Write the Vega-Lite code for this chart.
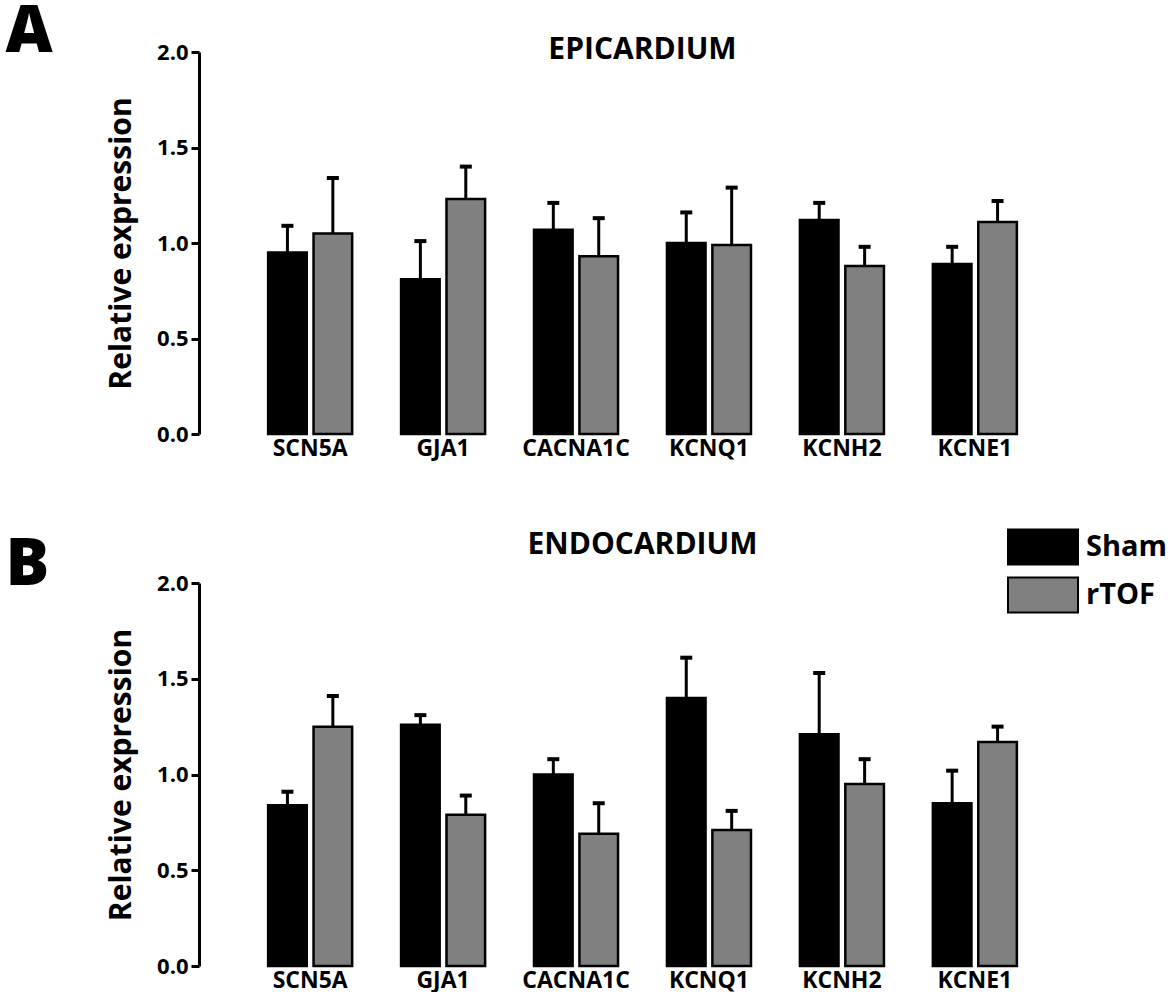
{
  "$schema": "https://vega.github.io/schema/vega-lite/v6.json",
  "padding": {"left": 5, "top": 0, "right": 5, "bottom": 0},
  "background": "white",
  "config": {
    "view": {"stroke": null},
    "font": "Open Sans",
    "axis": {"labelFont": "Open Sans", "titleFont": "Open Sans", "labelColor": "black", "titleColor": "black"},
    "title": {"font": "Open Sans", "color": "black"}
  },
  "datasets": {
    "epi": [
      {"gene": "SCN5A", "group": "Sham", "mean": 0.95, "upper": 1.09},
      {"gene": "SCN5A", "group": "rTOF", "mean": 1.05, "upper": 1.34},
      {"gene": "GJA1", "group": "Sham", "mean": 0.81, "upper": 1.01},
      {"gene": "GJA1", "group": "rTOF", "mean": 1.23, "upper": 1.40},
      {"gene": "CACNA1C", "group": "Sham", "mean": 1.07, "upper": 1.21},
      {"gene": "CACNA1C", "group": "rTOF", "mean": 0.93, "upper": 1.13},
      {"gene": "KCNQ1", "group": "Sham", "mean": 1.00, "upper": 1.16},
      {"gene": "KCNQ1", "group": "rTOF", "mean": 0.99, "upper": 1.29},
      {"gene": "KCNH2", "group": "Sham", "mean": 1.12, "upper": 1.21},
      {"gene": "KCNH2", "group": "rTOF", "mean": 0.88, "upper": 0.98},
      {"gene": "KCNE1", "group": "Sham", "mean": 0.89, "upper": 0.98},
      {"gene": "KCNE1", "group": "rTOF", "mean": 1.11, "upper": 1.22}
    ],
    "endo": [
      {"gene": "SCN5A", "group": "Sham", "mean": 0.84, "upper": 0.91},
      {"gene": "SCN5A", "group": "rTOF", "mean": 1.25, "upper": 1.41},
      {"gene": "GJA1", "group": "Sham", "mean": 1.26, "upper": 1.31},
      {"gene": "GJA1", "group": "rTOF", "mean": 0.79, "upper": 0.89},
      {"gene": "CACNA1C", "group": "Sham", "mean": 1.00, "upper": 1.08},
      {"gene": "CACNA1C", "group": "rTOF", "mean": 0.69, "upper": 0.85},
      {"gene": "KCNQ1", "group": "Sham", "mean": 1.40, "upper": 1.61},
      {"gene": "KCNQ1", "group": "rTOF", "mean": 0.71, "upper": 0.81},
      {"gene": "KCNH2", "group": "Sham", "mean": 1.21, "upper": 1.53},
      {"gene": "KCNH2", "group": "rTOF", "mean": 0.95, "upper": 1.08},
      {"gene": "KCNE1", "group": "Sham", "mean": 0.85, "upper": 1.02},
      {"gene": "KCNE1", "group": "rTOF", "mean": 1.17, "upper": 1.25}
    ]
  },
  "spacing": 61,
  "resolve": {"scale": {"color": "independent"}, "legend": {"color": "independent"}},
  "vconcat": [
    {
      "title": {"text": "A", "anchor": "start", "frame": "bounds", "fontSize": 65, "fontWeight": 800, "dx": -101, "offset": -31},
      "resolve": {"scale": {"color": "independent"}, "legend": {"color": "independent"}},
      "vconcat": [
        {
          "width": 887,
          "height": 382,
          "title": {"text": "EPICARDIUM", "fontSize": 30, "fontWeight": "bold", "anchor": "middle", "offset": -24},
          "data": {"name": "epi"},
          "encoding": {
            "x": {"field": "gene", "type": "nominal", "sort": null,
                  "scale": {"paddingInner": 0.368, "paddingOuter": 0.52},
                  "axis": {"title": null, "domain": false, "ticks": false, "labelAngle": 0, "labelFontSize": 23, "labelFontWeight": "bold", "labelPadding": 3}},
            "xOffset": {"field": "group", "type": "nominal", "sort": ["Sham", "rTOF"], "scale": {"paddingInner": 0.15}}
          },
          "layer": [
            {
              "mark": {"type": "rule", "color": "black", "strokeWidth": 3},
              "encoding": {
                "y": {"field": "mean", "type": "quantitative"},
                "y2": {"field": "upper"}
              }
            },
            {
              "mark": {"type": "tick", "color": "black", "opacity": 1, "thickness": 4, "size": 12},
              "encoding": {
                "y": {"field": "upper", "type": "quantitative"}
              }
            },
            {
              "mark": {"type": "bar", "stroke": "black", "strokeWidth": 2.5},
              "encoding": {
                "y": {"field": "mean", "type": "quantitative",
                      "scale": {"domain": [0, 2]},
                      "axis": {"title": "Relative expression", "titleFontSize": 30, "titleFontWeight": "bold", "titlePadding": 20,
                               "values": [0, 0.5, 1, 1.5, 2], "format": ".1f", "grid": false,
                               "domainColor": "black", "domainWidth": 3, "tickColor": "black", "tickWidth": 3, "tickSize": 8,
                               "labelFontSize": 22, "labelFontWeight": "bold", "labelPadding": 3}},
                "color": {"field": "group", "type": "nominal", "sort": ["Sham", "rTOF"],
                          "scale": {"domain": ["Sham", "rTOF"], "range": ["#000000", "#808080"]}, "legend": null}
              }
            }
          ]
        }
      ]
    },
    {
      "title": {"text": "B", "anchor": "start", "frame": "bounds", "fontSize": 65, "fontWeight": 800, "dx": -101, "offset": -78},
      "resolve": {"scale": {"color": "independent"}, "legend": {"color": "independent"}},
      "vconcat": [
        {
          "width": 887,
          "height": 383,
          "title": {"text": "ENDOCARDIUM", "fontSize": 30, "fontWeight": "bold", "anchor": "middle", "offset": -39},
          "data": {"name": "endo"},
          "encoding": {
            "x": {"field": "gene", "type": "nominal", "sort": null,
                  "scale": {"paddingInner": 0.368, "paddingOuter": 0.52},
                  "axis": {"title": null, "domain": false, "ticks": false, "labelAngle": 0, "labelFontSize": 23, "labelFontWeight": "bold", "labelPadding": 3}},
            "xOffset": {"field": "group", "type": "nominal", "sort": ["Sham", "rTOF"], "scale": {"paddingInner": 0.15}}
          },
          "layer": [
            {
              "mark": {"type": "rule", "color": "black", "strokeWidth": 3},
              "encoding": {
                "y": {"field": "mean", "type": "quantitative"},
                "y2": {"field": "upper"}
              }
            },
            {
              "mark": {"type": "tick", "color": "black", "opacity": 1, "thickness": 4, "size": 12},
              "encoding": {
                "y": {"field": "upper", "type": "quantitative"}
              }
            },
            {
              "mark": {"type": "bar", "stroke": "black", "strokeWidth": 2.5},
              "encoding": {
                "y": {"field": "mean", "type": "quantitative",
                      "scale": {"domain": [0, 2]},
                      "axis": {"title": "Relative expression", "titleFontSize": 30, "titleFontWeight": "bold", "titlePadding": 20,
                               "values": [0, 0.5, 1, 1.5, 2], "format": ".1f", "grid": false,
                               "domainColor": "black", "domainWidth": 3, "tickColor": "black", "tickWidth": 3, "tickSize": 8,
                               "labelFontSize": 22, "labelFontWeight": "bold", "labelPadding": 3}},
                "color": {"field": "group", "type": "nominal", "sort": ["Sham", "rTOF"],
                          "scale": {"domain": ["Sham", "rTOF"], "range": ["#000000", "#808080"]},
                          "legend": {"title": null, "orient": "none", "legendX": 818, "legendY": -62, "padding": 0,
                                     "symbolType": "M-1.4,-0.7H1.4V0.7H-1.4Z", "symbolSize": 2500,
                                     "symbolStrokeColor": "black", "symbolStrokeWidth": 2, "symbolOpacity": 1,
                                     "labelFontSize": 29, "labelFontWeight": "bold", "labelFont": "Open Sans", "labelColor": "black",
                                     "labelOffset": 17, "rowPadding": 0}}
              }
            }
          ]
        }
      ]
    }
  ]
}
